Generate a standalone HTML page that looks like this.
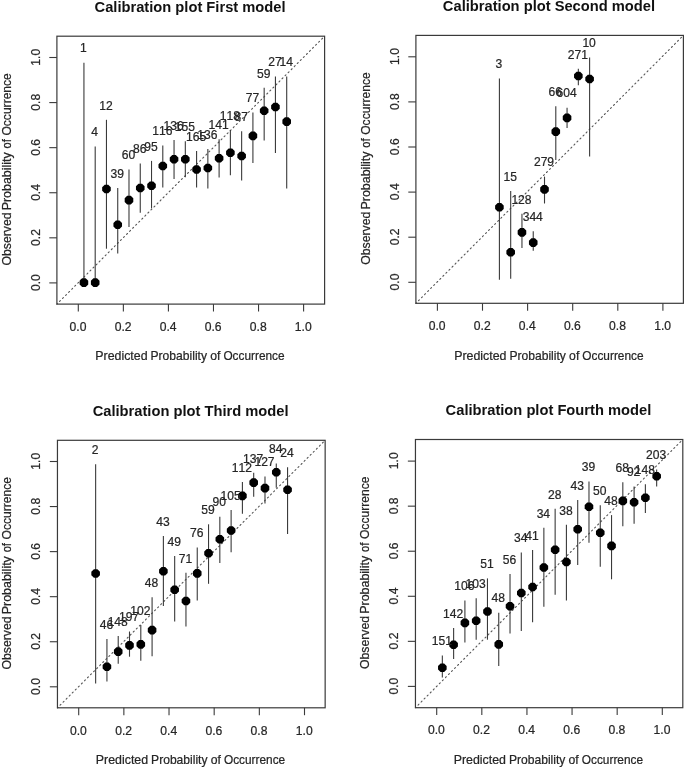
<!DOCTYPE html>
<html><head><meta charset="utf-8"><title>Calibration plots</title><style>
html,body{margin:0;padding:0;background:#fff;width:685px;height:768px;overflow:hidden}
svg{display:block;will-change:transform}
text{font-family:"Liberation Sans",sans-serif;font-kerning:none}
text.t{stroke:#262626;stroke-width:0.22px}
.ln{stroke:#3a3a3a;stroke-width:1.1px}
.bx{fill:none;stroke:#3a3a3a;stroke-width:1.2px}
.dg{stroke:#555;stroke-width:1.1px;stroke-linecap:round;stroke-dasharray:1.2 3.113;stroke-dashoffset:0.6}
</style></head><body>
<svg width="685" height="768" viewBox="0 0 685 768">
<rect width="685" height="768" fill="#fff"/>
<defs>
<polygon id="oct" points="4.300,1.781 1.781,4.300 -1.781,4.300 -4.300,1.781 -4.300,-1.781 -1.781,-4.300 1.781,-4.300 4.300,-1.781" fill="#000"/>
</defs>
<g>
<line x1="56.9" y1="304.1" x2="324.6" y2="36.2" class="dg"/>
<line x1="83.93" y1="62.7" x2="83.93" y2="282.6" class="ln"/>
<line x1="95.2" y1="146.6" x2="95.2" y2="282.6" class="ln"/>
<line x1="106.46" y1="119.8" x2="106.46" y2="248.7" class="ln"/>
<line x1="117.73" y1="187.9" x2="117.73" y2="253.4" class="ln"/>
<line x1="128.99" y1="169.5" x2="128.99" y2="227" class="ln"/>
<line x1="140.26" y1="163.4" x2="140.26" y2="212.7" class="ln"/>
<line x1="151.52" y1="160.9" x2="151.52" y2="208.4" class="ln"/>
<line x1="162.79" y1="145.4" x2="162.79" y2="187.5" class="ln"/>
<line x1="174.05" y1="139.9" x2="174.05" y2="178.9" class="ln"/>
<line x1="185.32" y1="141.3" x2="185.32" y2="177.2" class="ln"/>
<line x1="196.58" y1="151.1" x2="196.58" y2="187.5" class="ln"/>
<line x1="207.85" y1="148.9" x2="207.85" y2="188.4" class="ln"/>
<line x1="219.11" y1="139.3" x2="219.11" y2="177.4" class="ln"/>
<line x1="230.38" y1="130.1" x2="230.38" y2="175.2" class="ln"/>
<line x1="241.64" y1="131.2" x2="241.64" y2="180.5" class="ln"/>
<line x1="252.91" y1="112.4" x2="252.91" y2="162.9" class="ln"/>
<line x1="264.17" y1="87.8" x2="264.17" y2="140.4" class="ln"/>
<line x1="275.44" y1="76.6" x2="275.44" y2="153.1" class="ln"/>
<line x1="286.7" y1="76.6" x2="286.7" y2="188.4" class="ln"/>
<use href="#oct" x="83.93" y="282.6"/>
<use href="#oct" x="95.2" y="282.6"/>
<use href="#oct" x="106.46" y="189"/>
<use href="#oct" x="117.73" y="224.8"/>
<use href="#oct" x="128.99" y="200.1"/>
<use href="#oct" x="140.26" y="188"/>
<use href="#oct" x="151.52" y="185.8"/>
<use href="#oct" x="162.79" y="166"/>
<use href="#oct" x="174.05" y="159.3"/>
<use href="#oct" x="185.32" y="159.3"/>
<use href="#oct" x="196.58" y="169.5"/>
<use href="#oct" x="207.85" y="168"/>
<use href="#oct" x="219.11" y="158.2"/>
<use href="#oct" x="230.38" y="152.8"/>
<use href="#oct" x="241.64" y="156"/>
<use href="#oct" x="252.91" y="135.9"/>
<use href="#oct" x="264.17" y="110.7"/>
<use href="#oct" x="275.44" y="107"/>
<use href="#oct" x="286.7" y="121.6"/>
<text class="t" transform="translate(83.43 52.4) scale(1 1.0450)" font-size="12.1" text-anchor="middle" fill="#262626">1</text>
<text class="t" transform="translate(94.7 136.3) scale(1 1.0450)" font-size="12.1" text-anchor="middle" fill="#262626">4</text>
<text class="t" transform="translate(105.96 109.5) scale(1 1.0450)" font-size="12.1" text-anchor="middle" fill="#262626">12</text>
<text class="t" transform="translate(117.23 177.6) scale(1 1.0450)" font-size="12.1" text-anchor="middle" fill="#262626">39</text>
<text class="t" transform="translate(128.49 159.2) scale(1 1.0450)" font-size="12.1" text-anchor="middle" fill="#262626">60</text>
<text class="t" transform="translate(139.76 153.1) scale(1 1.0450)" font-size="12.1" text-anchor="middle" fill="#262626">86</text>
<text class="t" transform="translate(151.02 150.6) scale(1 1.0450)" font-size="12.1" text-anchor="middle" fill="#262626">95</text>
<text class="t" transform="translate(162.29 135.1) scale(1 1.0450)" font-size="12.1" text-anchor="middle" fill="#262626">116</text>
<text class="t" transform="translate(173.55 129.6) scale(1 1.0450)" font-size="12.1" text-anchor="middle" fill="#262626">136</text>
<text class="t" transform="translate(184.82 131) scale(1 1.0450)" font-size="12.1" text-anchor="middle" fill="#262626">155</text>
<text class="t" transform="translate(196.08 140.8) scale(1 1.0450)" font-size="12.1" text-anchor="middle" fill="#262626">165</text>
<text class="t" transform="translate(207.35 138.6) scale(1 1.0450)" font-size="12.1" text-anchor="middle" fill="#262626">136</text>
<text class="t" transform="translate(218.61 129) scale(1 1.0450)" font-size="12.1" text-anchor="middle" fill="#262626">141</text>
<text class="t" transform="translate(229.88 119.8) scale(1 1.0450)" font-size="12.1" text-anchor="middle" fill="#262626">118</text>
<text class="t" transform="translate(241.14 120.9) scale(1 1.0450)" font-size="12.1" text-anchor="middle" fill="#262626">87</text>
<text class="t" transform="translate(252.41 102.1) scale(1 1.0450)" font-size="12.1" text-anchor="middle" fill="#262626">77</text>
<text class="t" transform="translate(263.67 77.5) scale(1 1.0450)" font-size="12.1" text-anchor="middle" fill="#262626">59</text>
<text class="t" transform="translate(274.94 66.3) scale(1 1.0450)" font-size="12.1" text-anchor="middle" fill="#262626">27</text>
<text class="t" transform="translate(286.2 66.3) scale(1 1.0450)" font-size="12.1" text-anchor="middle" fill="#262626">14</text>
<rect x="56.9" y="36.2" width="267.7" height="267.9" class="bx"/>
<line x1="78.3" y1="304.1" x2="78.3" y2="311.5" class="ln"/>
<text class="t" transform="translate(78 330.85) scale(1 1.0850)" font-size="12.15" text-anchor="middle" fill="#262626">0.0</text>
<line x1="49.3" y1="282.9" x2="56.9" y2="282.9" class="ln"/>
<text class="t" transform="translate(39.9 282.6) rotate(-90) scale(1 1.0850)" font-size="12.15" text-anchor="middle" fill="#262626">0.0</text>
<line x1="123.36" y1="304.1" x2="123.36" y2="311.5" class="ln"/>
<text class="t" transform="translate(123.06 330.85) scale(1 1.0850)" font-size="12.15" text-anchor="middle" fill="#262626">0.2</text>
<line x1="49.3" y1="237.82" x2="56.9" y2="237.82" class="ln"/>
<text class="t" transform="translate(39.9 237.52) rotate(-90) scale(1 1.0850)" font-size="12.15" text-anchor="middle" fill="#262626">0.2</text>
<line x1="168.42" y1="304.1" x2="168.42" y2="311.5" class="ln"/>
<text class="t" transform="translate(168.12 330.85) scale(1 1.0850)" font-size="12.15" text-anchor="middle" fill="#262626">0.4</text>
<line x1="49.3" y1="192.74" x2="56.9" y2="192.74" class="ln"/>
<text class="t" transform="translate(39.9 192.44) rotate(-90) scale(1 1.0850)" font-size="12.15" text-anchor="middle" fill="#262626">0.4</text>
<line x1="213.48" y1="304.1" x2="213.48" y2="311.5" class="ln"/>
<text class="t" transform="translate(213.18 330.85) scale(1 1.0850)" font-size="12.15" text-anchor="middle" fill="#262626">0.6</text>
<line x1="49.3" y1="147.66" x2="56.9" y2="147.66" class="ln"/>
<text class="t" transform="translate(39.9 147.36) rotate(-90) scale(1 1.0850)" font-size="12.15" text-anchor="middle" fill="#262626">0.6</text>
<line x1="258.54" y1="304.1" x2="258.54" y2="311.5" class="ln"/>
<text class="t" transform="translate(258.24 330.85) scale(1 1.0850)" font-size="12.15" text-anchor="middle" fill="#262626">0.8</text>
<line x1="49.3" y1="102.58" x2="56.9" y2="102.58" class="ln"/>
<text class="t" transform="translate(39.9 102.28) rotate(-90) scale(1 1.0850)" font-size="12.15" text-anchor="middle" fill="#262626">0.8</text>
<line x1="303.6" y1="304.1" x2="303.6" y2="311.5" class="ln"/>
<text class="t" transform="translate(303.3 330.85) scale(1 1.0850)" font-size="12.15" text-anchor="middle" fill="#262626">1.0</text>
<line x1="49.3" y1="57.5" x2="56.9" y2="57.5" class="ln"/>
<text class="t" transform="translate(39.9 57.2) rotate(-90) scale(1 1.0850)" font-size="12.15" text-anchor="middle" fill="#262626">1.0</text>
<text class="t" transform="translate(96.3 360.4) scale(1 1.0900)" x="-1.01" font-size="12.05" textLength="52.26" lengthAdjust="spacingAndGlyphs" fill="#262626">Predicted</text>
<text class="t" transform="translate(151.5 360.4) scale(1 1.0900)" x="-0.99" font-size="12.05" textLength="56.47" lengthAdjust="spacingAndGlyphs" fill="#262626">Probability</text>
<text class="t" transform="translate(210.7 360.4) scale(1 1.0900)" x="-0.51" font-size="12.05" textLength="10.2" lengthAdjust="spacingAndGlyphs" fill="#262626">of</text>
<text class="t" transform="translate(223.95 360.4) scale(1 1.0900)" x="-0.56" font-size="12.05" textLength="61.24" lengthAdjust="spacingAndGlyphs" fill="#262626">Occurrence</text>
<text class="t" transform="translate(10.9 265) rotate(-90) scale(1 1.0900)" x="-0.58" font-size="12.05" textLength="53.07" lengthAdjust="spacingAndGlyphs" fill="#262626">Observed</text>
<text class="t" transform="translate(10.9 209.3) rotate(-90) scale(1 1.0900)" x="-1.02" font-size="12.05" textLength="58.04" lengthAdjust="spacingAndGlyphs" fill="#262626">Probability</text>
<text class="t" transform="translate(10.9 148) rotate(-90) scale(1 1.0900)" x="-0.47" font-size="12.05" textLength="9.35" lengthAdjust="spacingAndGlyphs" fill="#262626">of</text>
<text class="t" transform="translate(10.9 135) rotate(-90) scale(1 1.0900)" x="-0.57" font-size="12.05" textLength="62.41" lengthAdjust="spacingAndGlyphs" fill="#262626">Occurrence</text>
<text transform="translate(190.05 11.7)" font-size="14.7" font-weight="bold" text-anchor="middle" fill="#111">Calibration plot First model</text>
</g>
<g>
<line x1="415.9" y1="303.3" x2="683.4" y2="35.4" class="dg"/>
<line x1="499.41" y1="78.4" x2="499.41" y2="279.8" class="ln"/>
<line x1="510.69" y1="190.9" x2="510.69" y2="278.8" class="ln"/>
<line x1="521.96" y1="213.8" x2="521.96" y2="248.1" class="ln"/>
<line x1="533.24" y1="231.3" x2="533.24" y2="250.8" class="ln"/>
<line x1="544.51" y1="176.6" x2="544.51" y2="203.5" class="ln"/>
<line x1="555.79" y1="106.2" x2="555.79" y2="160" class="ln"/>
<line x1="567.06" y1="107.7" x2="567.06" y2="128.1" class="ln"/>
<line x1="578.34" y1="68.8" x2="578.34" y2="85.2" class="ln"/>
<line x1="589.61" y1="57.6" x2="589.61" y2="156.4" class="ln"/>
<use href="#oct" x="499.41" y="207.2"/>
<use href="#oct" x="510.69" y="252.2"/>
<use href="#oct" x="521.96" y="232.4"/>
<use href="#oct" x="533.24" y="242.6"/>
<use href="#oct" x="544.51" y="189.4"/>
<use href="#oct" x="555.79" y="131.6"/>
<use href="#oct" x="567.06" y="117.9"/>
<use href="#oct" x="578.34" y="76"/>
<use href="#oct" x="589.61" y="79"/>
<text class="t" transform="translate(498.91 68.1) scale(1 1.0450)" font-size="12.1" text-anchor="middle" fill="#262626">3</text>
<text class="t" transform="translate(510.19 180.6) scale(1 1.0450)" font-size="12.1" text-anchor="middle" fill="#262626">15</text>
<text class="t" transform="translate(521.46 203.5) scale(1 1.0450)" font-size="12.1" text-anchor="middle" fill="#262626">128</text>
<text class="t" transform="translate(532.74 221) scale(1 1.0450)" font-size="12.1" text-anchor="middle" fill="#262626">344</text>
<text class="t" transform="translate(544.01 166.3) scale(1 1.0450)" font-size="12.1" text-anchor="middle" fill="#262626">279</text>
<text class="t" transform="translate(555.29 95.9) scale(1 1.0450)" font-size="12.1" text-anchor="middle" fill="#262626">66</text>
<text class="t" transform="translate(566.56 97.4) scale(1 1.0450)" font-size="12.1" text-anchor="middle" fill="#262626">604</text>
<text class="t" transform="translate(577.84 58.5) scale(1 1.0450)" font-size="12.1" text-anchor="middle" fill="#262626">271</text>
<text class="t" transform="translate(589.11 47.3) scale(1 1.0450)" font-size="12.1" text-anchor="middle" fill="#262626">10</text>
<rect x="415.9" y="35.4" width="267.5" height="267.9" class="bx"/>
<line x1="437.4" y1="303.3" x2="437.4" y2="310.7" class="ln"/>
<text class="t" transform="translate(437.1 330.05) scale(1 1.0850)" font-size="12.15" text-anchor="middle" fill="#262626">0.0</text>
<line x1="408.3" y1="282.3" x2="415.9" y2="282.3" class="ln"/>
<text class="t" transform="translate(398.9 282) rotate(-90) scale(1 1.0850)" font-size="12.15" text-anchor="middle" fill="#262626">0.0</text>
<line x1="482.5" y1="303.3" x2="482.5" y2="310.7" class="ln"/>
<text class="t" transform="translate(482.2 330.05) scale(1 1.0850)" font-size="12.15" text-anchor="middle" fill="#262626">0.2</text>
<line x1="408.3" y1="237.2" x2="415.9" y2="237.2" class="ln"/>
<text class="t" transform="translate(398.9 236.9) rotate(-90) scale(1 1.0850)" font-size="12.15" text-anchor="middle" fill="#262626">0.2</text>
<line x1="527.6" y1="303.3" x2="527.6" y2="310.7" class="ln"/>
<text class="t" transform="translate(527.3 330.05) scale(1 1.0850)" font-size="12.15" text-anchor="middle" fill="#262626">0.4</text>
<line x1="408.3" y1="192.1" x2="415.9" y2="192.1" class="ln"/>
<text class="t" transform="translate(398.9 191.8) rotate(-90) scale(1 1.0850)" font-size="12.15" text-anchor="middle" fill="#262626">0.4</text>
<line x1="572.7" y1="303.3" x2="572.7" y2="310.7" class="ln"/>
<text class="t" transform="translate(572.4 330.05) scale(1 1.0850)" font-size="12.15" text-anchor="middle" fill="#262626">0.6</text>
<line x1="408.3" y1="147" x2="415.9" y2="147" class="ln"/>
<text class="t" transform="translate(398.9 146.7) rotate(-90) scale(1 1.0850)" font-size="12.15" text-anchor="middle" fill="#262626">0.6</text>
<line x1="617.8" y1="303.3" x2="617.8" y2="310.7" class="ln"/>
<text class="t" transform="translate(617.5 330.05) scale(1 1.0850)" font-size="12.15" text-anchor="middle" fill="#262626">0.8</text>
<line x1="408.3" y1="101.9" x2="415.9" y2="101.9" class="ln"/>
<text class="t" transform="translate(398.9 101.6) rotate(-90) scale(1 1.0850)" font-size="12.15" text-anchor="middle" fill="#262626">0.8</text>
<line x1="662.9" y1="303.3" x2="662.9" y2="310.7" class="ln"/>
<text class="t" transform="translate(662.6 330.05) scale(1 1.0850)" font-size="12.15" text-anchor="middle" fill="#262626">1.0</text>
<line x1="408.3" y1="56.8" x2="415.9" y2="56.8" class="ln"/>
<text class="t" transform="translate(398.9 56.5) rotate(-90) scale(1 1.0850)" font-size="12.15" text-anchor="middle" fill="#262626">1.0</text>
<text class="t" transform="translate(455.2 359.6) scale(1 1.0900)" x="-1.01" font-size="12.05" textLength="52.26" lengthAdjust="spacingAndGlyphs" fill="#262626">Predicted</text>
<text class="t" transform="translate(510.4 359.6) scale(1 1.0900)" x="-0.99" font-size="12.05" textLength="56.47" lengthAdjust="spacingAndGlyphs" fill="#262626">Probability</text>
<text class="t" transform="translate(569.6 359.6) scale(1 1.0900)" x="-0.51" font-size="12.05" textLength="10.2" lengthAdjust="spacingAndGlyphs" fill="#262626">of</text>
<text class="t" transform="translate(582.85 359.6) scale(1 1.0900)" x="-0.56" font-size="12.05" textLength="61.24" lengthAdjust="spacingAndGlyphs" fill="#262626">Occurrence</text>
<text class="t" transform="translate(369.9 264.2) rotate(-90) scale(1 1.0900)" x="-0.58" font-size="12.05" textLength="53.07" lengthAdjust="spacingAndGlyphs" fill="#262626">Observed</text>
<text class="t" transform="translate(369.9 208.5) rotate(-90) scale(1 1.0900)" x="-1.02" font-size="12.05" textLength="58.04" lengthAdjust="spacingAndGlyphs" fill="#262626">Probability</text>
<text class="t" transform="translate(369.9 147.2) rotate(-90) scale(1 1.0900)" x="-0.47" font-size="12.05" textLength="9.35" lengthAdjust="spacingAndGlyphs" fill="#262626">of</text>
<text class="t" transform="translate(369.9 134.2) rotate(-90) scale(1 1.0900)" x="-0.57" font-size="12.05" textLength="62.41" lengthAdjust="spacingAndGlyphs" fill="#262626">Occurrence</text>
<text transform="translate(548.95 10.9)" font-size="14.7" font-weight="bold" text-anchor="middle" fill="#111">Calibration plot Second model</text>
</g>
<g>
<line x1="57.45" y1="707.8" x2="325.15" y2="440.3" class="dg"/>
<line x1="95.64" y1="464.2" x2="95.64" y2="683.6" class="ln"/>
<line x1="106.93" y1="638.9" x2="106.93" y2="681.6" class="ln"/>
<line x1="118.22" y1="636" x2="118.22" y2="663.8" class="ln"/>
<line x1="129.5" y1="631.5" x2="129.5" y2="656.7" class="ln"/>
<line x1="140.8" y1="625" x2="140.8" y2="660.8" class="ln"/>
<line x1="152.09" y1="597.3" x2="152.09" y2="656.2" class="ln"/>
<line x1="163.38" y1="536" x2="163.38" y2="606" class="ln"/>
<line x1="174.67" y1="556" x2="174.67" y2="621.6" class="ln"/>
<line x1="185.96" y1="572.8" x2="185.96" y2="626.4" class="ln"/>
<line x1="197.25" y1="547.4" x2="197.25" y2="600.5" class="ln"/>
<line x1="208.54" y1="524.3" x2="208.54" y2="583.8" class="ln"/>
<line x1="219.83" y1="516.7" x2="219.83" y2="563" class="ln"/>
<line x1="231.12" y1="510" x2="231.12" y2="552.3" class="ln"/>
<line x1="242.41" y1="482" x2="242.41" y2="513.7" class="ln"/>
<line x1="253.69" y1="472.8" x2="253.69" y2="496.7" class="ln"/>
<line x1="264.99" y1="476.5" x2="264.99" y2="503.5" class="ln"/>
<line x1="276.28" y1="463.6" x2="276.28" y2="487.7" class="ln"/>
<line x1="287.56" y1="467.3" x2="287.56" y2="534.1" class="ln"/>
<use href="#oct" x="95.64" y="573.5"/>
<use href="#oct" x="106.93" y="666.7"/>
<use href="#oct" x="118.22" y="651.6"/>
<use href="#oct" x="129.5" y="645.4"/>
<use href="#oct" x="140.8" y="644.4"/>
<use href="#oct" x="152.09" y="630.1"/>
<use href="#oct" x="163.38" y="571.3"/>
<use href="#oct" x="174.67" y="589.7"/>
<use href="#oct" x="185.96" y="601"/>
<use href="#oct" x="197.25" y="573.4"/>
<use href="#oct" x="208.54" y="553.3"/>
<use href="#oct" x="219.83" y="539.2"/>
<use href="#oct" x="231.12" y="530.5"/>
<use href="#oct" x="242.41" y="495.9"/>
<use href="#oct" x="253.69" y="482.6"/>
<use href="#oct" x="264.99" y="488.1"/>
<use href="#oct" x="276.28" y="472.2"/>
<use href="#oct" x="287.56" y="489.8"/>
<text class="t" transform="translate(95.14 453.9) scale(1 1.0450)" font-size="12.1" text-anchor="middle" fill="#262626">2</text>
<text class="t" transform="translate(106.43 628.6) scale(1 1.0450)" font-size="12.1" text-anchor="middle" fill="#262626">46</text>
<text class="t" transform="translate(117.72 625.7) scale(1 1.0450)" font-size="12.1" text-anchor="middle" fill="#262626">148</text>
<text class="t" transform="translate(129 621.2) scale(1 1.0450)" font-size="12.1" text-anchor="middle" fill="#262626">197</text>
<text class="t" transform="translate(140.3 614.7) scale(1 1.0450)" font-size="12.1" text-anchor="middle" fill="#262626">102</text>
<text class="t" transform="translate(151.59 587) scale(1 1.0450)" font-size="12.1" text-anchor="middle" fill="#262626">48</text>
<text class="t" transform="translate(162.88 525.7) scale(1 1.0450)" font-size="12.1" text-anchor="middle" fill="#262626">43</text>
<text class="t" transform="translate(174.17 545.7) scale(1 1.0450)" font-size="12.1" text-anchor="middle" fill="#262626">49</text>
<text class="t" transform="translate(185.46 562.5) scale(1 1.0450)" font-size="12.1" text-anchor="middle" fill="#262626">71</text>
<text class="t" transform="translate(196.75 537.1) scale(1 1.0450)" font-size="12.1" text-anchor="middle" fill="#262626">76</text>
<text class="t" transform="translate(208.04 514) scale(1 1.0450)" font-size="12.1" text-anchor="middle" fill="#262626">59</text>
<text class="t" transform="translate(219.33 506.4) scale(1 1.0450)" font-size="12.1" text-anchor="middle" fill="#262626">90</text>
<text class="t" transform="translate(230.62 499.7) scale(1 1.0450)" font-size="12.1" text-anchor="middle" fill="#262626">105</text>
<text class="t" transform="translate(241.91 471.7) scale(1 1.0450)" font-size="12.1" text-anchor="middle" fill="#262626">112</text>
<text class="t" transform="translate(253.19 462.5) scale(1 1.0450)" font-size="12.1" text-anchor="middle" fill="#262626">137</text>
<text class="t" transform="translate(264.49 466.2) scale(1 1.0450)" font-size="12.1" text-anchor="middle" fill="#262626">127</text>
<text class="t" transform="translate(275.78 453.3) scale(1 1.0450)" font-size="12.1" text-anchor="middle" fill="#262626">84</text>
<text class="t" transform="translate(287.06 457) scale(1 1.0450)" font-size="12.1" text-anchor="middle" fill="#262626">24</text>
<rect x="57.45" y="440.3" width="267.7" height="267.5" class="bx"/>
<line x1="78.7" y1="707.8" x2="78.7" y2="715.2" class="ln"/>
<text class="t" transform="translate(78.4 734.55) scale(1 1.0850)" font-size="12.15" text-anchor="middle" fill="#262626">0.0</text>
<line x1="49.85" y1="686.8" x2="57.45" y2="686.8" class="ln"/>
<text class="t" transform="translate(40.45 686.5) rotate(-90) scale(1 1.0850)" font-size="12.15" text-anchor="middle" fill="#262626">0.0</text>
<line x1="123.86" y1="707.8" x2="123.86" y2="715.2" class="ln"/>
<text class="t" transform="translate(123.56 734.55) scale(1 1.0850)" font-size="12.15" text-anchor="middle" fill="#262626">0.2</text>
<line x1="49.85" y1="641.74" x2="57.45" y2="641.74" class="ln"/>
<text class="t" transform="translate(40.45 641.44) rotate(-90) scale(1 1.0850)" font-size="12.15" text-anchor="middle" fill="#262626">0.2</text>
<line x1="169.02" y1="707.8" x2="169.02" y2="715.2" class="ln"/>
<text class="t" transform="translate(168.72 734.55) scale(1 1.0850)" font-size="12.15" text-anchor="middle" fill="#262626">0.4</text>
<line x1="49.85" y1="596.68" x2="57.45" y2="596.68" class="ln"/>
<text class="t" transform="translate(40.45 596.38) rotate(-90) scale(1 1.0850)" font-size="12.15" text-anchor="middle" fill="#262626">0.4</text>
<line x1="214.18" y1="707.8" x2="214.18" y2="715.2" class="ln"/>
<text class="t" transform="translate(213.88 734.55) scale(1 1.0850)" font-size="12.15" text-anchor="middle" fill="#262626">0.6</text>
<line x1="49.85" y1="551.62" x2="57.45" y2="551.62" class="ln"/>
<text class="t" transform="translate(40.45 551.32) rotate(-90) scale(1 1.0850)" font-size="12.15" text-anchor="middle" fill="#262626">0.6</text>
<line x1="259.34" y1="707.8" x2="259.34" y2="715.2" class="ln"/>
<text class="t" transform="translate(259.04 734.55) scale(1 1.0850)" font-size="12.15" text-anchor="middle" fill="#262626">0.8</text>
<line x1="49.85" y1="506.56" x2="57.45" y2="506.56" class="ln"/>
<text class="t" transform="translate(40.45 506.26) rotate(-90) scale(1 1.0850)" font-size="12.15" text-anchor="middle" fill="#262626">0.8</text>
<line x1="304.5" y1="707.8" x2="304.5" y2="715.2" class="ln"/>
<text class="t" transform="translate(304.2 734.55) scale(1 1.0850)" font-size="12.15" text-anchor="middle" fill="#262626">1.0</text>
<line x1="49.85" y1="461.5" x2="57.45" y2="461.5" class="ln"/>
<text class="t" transform="translate(40.45 461.2) rotate(-90) scale(1 1.0850)" font-size="12.15" text-anchor="middle" fill="#262626">1.0</text>
<text class="t" transform="translate(96.85 764.1) scale(1 1.0900)" x="-1.01" font-size="12.05" textLength="52.26" lengthAdjust="spacingAndGlyphs" fill="#262626">Predicted</text>
<text class="t" transform="translate(152.05 764.1) scale(1 1.0900)" x="-0.99" font-size="12.05" textLength="56.47" lengthAdjust="spacingAndGlyphs" fill="#262626">Probability</text>
<text class="t" transform="translate(211.25 764.1) scale(1 1.0900)" x="-0.51" font-size="12.05" textLength="10.2" lengthAdjust="spacingAndGlyphs" fill="#262626">of</text>
<text class="t" transform="translate(224.5 764.1) scale(1 1.0900)" x="-0.56" font-size="12.05" textLength="61.24" lengthAdjust="spacingAndGlyphs" fill="#262626">Occurrence</text>
<text class="t" transform="translate(11.45 668.9) rotate(-90) scale(1 1.0900)" x="-0.58" font-size="12.05" textLength="53.07" lengthAdjust="spacingAndGlyphs" fill="#262626">Observed</text>
<text class="t" transform="translate(11.45 613.2) rotate(-90) scale(1 1.0900)" x="-1.02" font-size="12.05" textLength="58.04" lengthAdjust="spacingAndGlyphs" fill="#262626">Probability</text>
<text class="t" transform="translate(11.45 551.9) rotate(-90) scale(1 1.0900)" x="-0.47" font-size="12.05" textLength="9.35" lengthAdjust="spacingAndGlyphs" fill="#262626">of</text>
<text class="t" transform="translate(11.45 538.9) rotate(-90) scale(1 1.0900)" x="-0.57" font-size="12.05" textLength="62.41" lengthAdjust="spacingAndGlyphs" fill="#262626">Occurrence</text>
<text transform="translate(190.6 415.8)" font-size="14.7" font-weight="bold" text-anchor="middle" fill="#111">Calibration plot Third model</text>
</g>
<g>
<line x1="415.45" y1="707.7" x2="682.8" y2="439.5" class="dg"/>
<line x1="442.34" y1="655.4" x2="442.34" y2="677.5" class="ln"/>
<line x1="453.62" y1="628.1" x2="453.62" y2="659.1" class="ln"/>
<line x1="464.9" y1="600.5" x2="464.9" y2="642.4" class="ln"/>
<line x1="476.18" y1="598.2" x2="476.18" y2="639.7" class="ln"/>
<line x1="487.46" y1="578.4" x2="487.46" y2="639.7" class="ln"/>
<line x1="498.74" y1="612.7" x2="498.74" y2="665.9" class="ln"/>
<line x1="510.02" y1="573.9" x2="510.02" y2="633.6" class="ln"/>
<line x1="521.3" y1="552.4" x2="521.3" y2="630.9" class="ln"/>
<line x1="532.58" y1="550.1" x2="532.58" y2="622.3" class="ln"/>
<line x1="543.86" y1="527.8" x2="543.86" y2="606.8" class="ln"/>
<line x1="555.14" y1="508.8" x2="555.14" y2="594.7" class="ln"/>
<line x1="566.42" y1="524.8" x2="566.42" y2="600.4" class="ln"/>
<line x1="577.7" y1="500" x2="577.7" y2="565" class="ln"/>
<line x1="588.98" y1="481.4" x2="588.98" y2="542.7" class="ln"/>
<line x1="600.26" y1="505.2" x2="600.26" y2="566.7" class="ln"/>
<line x1="611.54" y1="515.1" x2="611.54" y2="579.3" class="ln"/>
<line x1="622.82" y1="482.3" x2="622.82" y2="526.2" class="ln"/>
<line x1="634.1" y1="486.6" x2="634.1" y2="523.8" class="ln"/>
<line x1="645.38" y1="484.3" x2="645.38" y2="513" class="ln"/>
<line x1="656.66" y1="469.6" x2="656.66" y2="486.6" class="ln"/>
<use href="#oct" x="442.34" y="667.7"/>
<use href="#oct" x="453.62" y="644.8"/>
<use href="#oct" x="464.9" y="622.9"/>
<use href="#oct" x="476.18" y="620.7"/>
<use href="#oct" x="487.46" y="611.5"/>
<use href="#oct" x="498.74" y="644.4"/>
<use href="#oct" x="510.02" y="606.2"/>
<use href="#oct" x="521.3" y="593"/>
<use href="#oct" x="532.58" y="587"/>
<use href="#oct" x="543.86" y="567.5"/>
<use href="#oct" x="555.14" y="549.7"/>
<use href="#oct" x="566.42" y="562"/>
<use href="#oct" x="577.7" y="529.3"/>
<use href="#oct" x="588.98" y="506.8"/>
<use href="#oct" x="600.26" y="532.7"/>
<use href="#oct" x="611.54" y="545.9"/>
<use href="#oct" x="622.82" y="500.9"/>
<use href="#oct" x="634.1" y="502.3"/>
<use href="#oct" x="645.38" y="497.8"/>
<use href="#oct" x="656.66" y="476.3"/>
<text class="t" transform="translate(441.84 645.1) scale(1 1.0450)" font-size="12.1" text-anchor="middle" fill="#262626">151</text>
<text class="t" transform="translate(453.12 617.8) scale(1 1.0450)" font-size="12.1" text-anchor="middle" fill="#262626">142</text>
<text class="t" transform="translate(464.4 590.2) scale(1 1.0450)" font-size="12.1" text-anchor="middle" fill="#262626">106</text>
<text class="t" transform="translate(475.68 587.9) scale(1 1.0450)" font-size="12.1" text-anchor="middle" fill="#262626">103</text>
<text class="t" transform="translate(486.96 568.1) scale(1 1.0450)" font-size="12.1" text-anchor="middle" fill="#262626">51</text>
<text class="t" transform="translate(498.24 602.4) scale(1 1.0450)" font-size="12.1" text-anchor="middle" fill="#262626">48</text>
<text class="t" transform="translate(509.52 563.6) scale(1 1.0450)" font-size="12.1" text-anchor="middle" fill="#262626">56</text>
<text class="t" transform="translate(520.8 542.1) scale(1 1.0450)" font-size="12.1" text-anchor="middle" fill="#262626">34</text>
<text class="t" transform="translate(532.08 539.8) scale(1 1.0450)" font-size="12.1" text-anchor="middle" fill="#262626">41</text>
<text class="t" transform="translate(543.36 517.5) scale(1 1.0450)" font-size="12.1" text-anchor="middle" fill="#262626">34</text>
<text class="t" transform="translate(554.64 498.5) scale(1 1.0450)" font-size="12.1" text-anchor="middle" fill="#262626">28</text>
<text class="t" transform="translate(565.92 514.5) scale(1 1.0450)" font-size="12.1" text-anchor="middle" fill="#262626">38</text>
<text class="t" transform="translate(577.2 489.7) scale(1 1.0450)" font-size="12.1" text-anchor="middle" fill="#262626">43</text>
<text class="t" transform="translate(588.48 471.1) scale(1 1.0450)" font-size="12.1" text-anchor="middle" fill="#262626">39</text>
<text class="t" transform="translate(599.76 494.9) scale(1 1.0450)" font-size="12.1" text-anchor="middle" fill="#262626">50</text>
<text class="t" transform="translate(611.04 504.8) scale(1 1.0450)" font-size="12.1" text-anchor="middle" fill="#262626">48</text>
<text class="t" transform="translate(622.32 472) scale(1 1.0450)" font-size="12.1" text-anchor="middle" fill="#262626">68</text>
<text class="t" transform="translate(633.6 476.3) scale(1 1.0450)" font-size="12.1" text-anchor="middle" fill="#262626">92</text>
<text class="t" transform="translate(644.88 474) scale(1 1.0450)" font-size="12.1" text-anchor="middle" fill="#262626">148</text>
<text class="t" transform="translate(656.16 459.3) scale(1 1.0450)" font-size="12.1" text-anchor="middle" fill="#262626">203</text>
<rect x="415.45" y="439.5" width="267.35" height="268.2" class="bx"/>
<line x1="436.7" y1="707.7" x2="436.7" y2="715.1" class="ln"/>
<text class="t" transform="translate(436.4 734.45) scale(1 1.0850)" font-size="12.15" text-anchor="middle" fill="#262626">0.0</text>
<line x1="407.85" y1="686.4" x2="415.45" y2="686.4" class="ln"/>
<text class="t" transform="translate(398.45 686.1) rotate(-90) scale(1 1.0850)" font-size="12.15" text-anchor="middle" fill="#262626">0.0</text>
<line x1="481.82" y1="707.7" x2="481.82" y2="715.1" class="ln"/>
<text class="t" transform="translate(481.52 734.45) scale(1 1.0850)" font-size="12.15" text-anchor="middle" fill="#262626">0.2</text>
<line x1="407.85" y1="641.34" x2="415.45" y2="641.34" class="ln"/>
<text class="t" transform="translate(398.45 641.04) rotate(-90) scale(1 1.0850)" font-size="12.15" text-anchor="middle" fill="#262626">0.2</text>
<line x1="526.94" y1="707.7" x2="526.94" y2="715.1" class="ln"/>
<text class="t" transform="translate(526.64 734.45) scale(1 1.0850)" font-size="12.15" text-anchor="middle" fill="#262626">0.4</text>
<line x1="407.85" y1="596.28" x2="415.45" y2="596.28" class="ln"/>
<text class="t" transform="translate(398.45 595.98) rotate(-90) scale(1 1.0850)" font-size="12.15" text-anchor="middle" fill="#262626">0.4</text>
<line x1="572.06" y1="707.7" x2="572.06" y2="715.1" class="ln"/>
<text class="t" transform="translate(571.76 734.45) scale(1 1.0850)" font-size="12.15" text-anchor="middle" fill="#262626">0.6</text>
<line x1="407.85" y1="551.22" x2="415.45" y2="551.22" class="ln"/>
<text class="t" transform="translate(398.45 550.92) rotate(-90) scale(1 1.0850)" font-size="12.15" text-anchor="middle" fill="#262626">0.6</text>
<line x1="617.18" y1="707.7" x2="617.18" y2="715.1" class="ln"/>
<text class="t" transform="translate(616.88 734.45) scale(1 1.0850)" font-size="12.15" text-anchor="middle" fill="#262626">0.8</text>
<line x1="407.85" y1="506.16" x2="415.45" y2="506.16" class="ln"/>
<text class="t" transform="translate(398.45 505.86) rotate(-90) scale(1 1.0850)" font-size="12.15" text-anchor="middle" fill="#262626">0.8</text>
<line x1="662.3" y1="707.7" x2="662.3" y2="715.1" class="ln"/>
<text class="t" transform="translate(662 734.45) scale(1 1.0850)" font-size="12.15" text-anchor="middle" fill="#262626">1.0</text>
<line x1="407.85" y1="461.1" x2="415.45" y2="461.1" class="ln"/>
<text class="t" transform="translate(398.45 460.8) rotate(-90) scale(1 1.0850)" font-size="12.15" text-anchor="middle" fill="#262626">1.0</text>
<text class="t" transform="translate(454.68 764) scale(1 1.0900)" x="-1.01" font-size="12.05" textLength="52.26" lengthAdjust="spacingAndGlyphs" fill="#262626">Predicted</text>
<text class="t" transform="translate(509.88 764) scale(1 1.0900)" x="-0.99" font-size="12.05" textLength="56.47" lengthAdjust="spacingAndGlyphs" fill="#262626">Probability</text>
<text class="t" transform="translate(569.08 764) scale(1 1.0900)" x="-0.51" font-size="12.05" textLength="10.2" lengthAdjust="spacingAndGlyphs" fill="#262626">of</text>
<text class="t" transform="translate(582.33 764) scale(1 1.0900)" x="-0.56" font-size="12.05" textLength="61.24" lengthAdjust="spacingAndGlyphs" fill="#262626">Occurrence</text>
<text class="t" transform="translate(369.45 668.45) rotate(-90) scale(1 1.0900)" x="-0.58" font-size="12.05" textLength="53.07" lengthAdjust="spacingAndGlyphs" fill="#262626">Observed</text>
<text class="t" transform="translate(369.45 612.75) rotate(-90) scale(1 1.0900)" x="-1.02" font-size="12.05" textLength="58.04" lengthAdjust="spacingAndGlyphs" fill="#262626">Probability</text>
<text class="t" transform="translate(369.45 551.45) rotate(-90) scale(1 1.0900)" x="-0.47" font-size="12.05" textLength="9.35" lengthAdjust="spacingAndGlyphs" fill="#262626">of</text>
<text class="t" transform="translate(369.45 538.45) rotate(-90) scale(1 1.0900)" x="-0.57" font-size="12.05" textLength="62.41" lengthAdjust="spacingAndGlyphs" fill="#262626">Occurrence</text>
<text transform="translate(548.42 415)" font-size="14.7" font-weight="bold" text-anchor="middle" fill="#111">Calibration plot Fourth model</text>
</g>
</svg>
</body></html>
